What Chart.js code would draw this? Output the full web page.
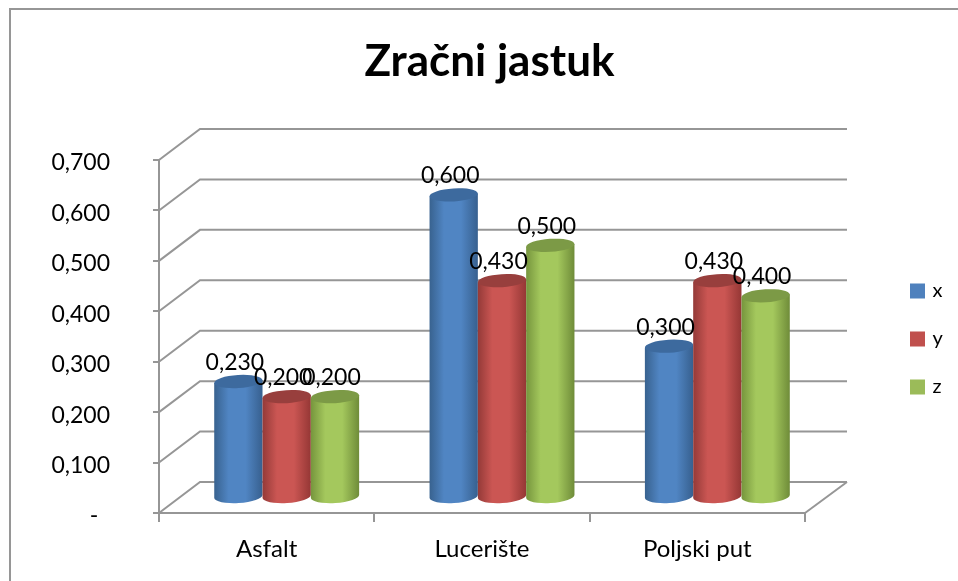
<!DOCTYPE html>
<html>
<head>
<meta charset="utf-8">
<style>
html, body { margin: 0; padding: 0; background: #fff; }
#wrap { width: 958px; height: 581px; }
</style>
<script src="https://cdn.jsdelivr.net/npm/chart.js@4/dist/chart.umd.js"></script>
</head>
<body>
<div id="wrap"><canvas id="cylChart" width="958" height="581"></canvas></div>
<script>
var categories = ['Asfalt', 'Lucerište', 'Poljski put'];
var xValues = [0.23, 0.6, 0.3];
var yValues = [0.2, 0.43, 0.43];
var zValues = [0.2, 0.5, 0.4];
var yTickLabels = ['-\u00a0\u00a0', '0,100', '0,200', '0,300', '0,400', '0,500', '0,600', '0,700'];

var fontName = 'Lato, "Open Sans", sans-serif';
var axisGray = '#969696';
var depthX = 41, depthY = -31;   // offset front plane -> back wall

// side colours of each cylinder: edge, middle, dark edge, top cap
var shades = [
    ['#38628f', '#5085c3', '#37608f', '#3d6a9e'],
    ['#943a38', '#cb5653', '#953735', '#983f3d'],
    ['#76953d', '#a4c85d', '#6f8c39', '#7c9a46']
];

function drawCylinder(ctx, bar, c) {
    var cx = bar.x + depthX / 2 - 0.5;
    var half = bar.width / 2;
    var top = bar.y + depthY / 2;
    var base = bar.base + depthY / 2;
    var ry = 6.5, tilt = -3.5 * Math.PI / 180;
    var dy = half * Math.sin(tilt);

    var grad = ctx.createLinearGradient(cx - half, 0, cx + half, 0);
    grad.addColorStop(0, c[0]);
    grad.addColorStop(0.3, c[1]);
    grad.addColorStop(0.65, c[1]);
    grad.addColorStop(1, c[2]);

    ctx.fillStyle = grad;
    ctx.beginPath();
    ctx.moveTo(cx - half, top - dy);
    ctx.lineTo(cx + half, top + dy);
    ctx.lineTo(cx + half, base + dy);
    ctx.ellipse(cx, base, half, ry, tilt, 0, Math.PI);
    ctx.closePath();
    ctx.fill();

    ctx.fillStyle = c[3];
    ctx.beginPath();
    ctx.ellipse(cx, top, half, ry, tilt, 0, Math.PI * 2);
    ctx.fill();
}

var cylinderPlugin = {
    id: 'cylinders',
    afterLayout: function (chart) {
        // title is centred a bit right of the canvas, legend sits by itself
        chart.titleBlock.left = 21;
        chart.titleBlock.right = 958;
        var lg = chart.legend;
        lg.left = 884.5; lg.right = 958; lg.top = 253; lg.bottom = 520;
    },
    beforeDraw: function (chart) {
        // the frame only shows on the top and left
        var ctx = chart.ctx;
        ctx.save();
        ctx.strokeStyle = axisGray;
        ctx.lineWidth = 2;
        ctx.beginPath();
        ctx.moveTo(10, 581);
        ctx.lineTo(10, 9);
        ctx.lineTo(958, 9);
        ctx.stroke();
        ctx.restore();
    },
    beforeDatasetsDraw: function (chart) {
        var ctx = chart.ctx, area = chart.chartArea, yScale = chart.scales.y;
        ctx.save();
        ctx.strokeStyle = axisGray;
        ctx.lineWidth = 2;
        yScale.ticks.forEach(function (t) {
            var py = yScale.getPixelForValue(t.value);
            ctx.beginPath();
            ctx.moveTo(area.left, py);
            ctx.lineTo(area.left + depthX, py + depthY);
            ctx.lineTo(area.right + depthX + 1, py + depthY);
            ctx.stroke();
        });
        ctx.beginPath();
        ctx.moveTo(area.right, area.bottom);
        ctx.lineTo(area.right + depthX + 1, area.bottom + depthY);
        ctx.stroke();

        // x first, z last, later series cover the earlier ones
        chart.data.datasets.forEach(function (ds, i) {
            chart.getDatasetMeta(i).data.forEach(function (bar) {
                drawCylinder(ctx, bar, shades[i]);
            });
        });

        ctx.fillStyle = '#000';
        ctx.font = '23px ' + fontName;
        ctx.textAlign = 'center';
        ctx.textBaseline = 'middle';
        chart.data.datasets.forEach(function (ds, i) {
            chart.getDatasetMeta(i).data.forEach(function (bar, j) {
                var label = ds.data[j].toFixed(3).replace('.', ',');
                ctx.fillText(label, bar.x + depthX / 2 - 4, bar.y + depthY / 2 - 19);
            });
        });
        ctx.restore();
        return false;
    }
};

new Chart(document.getElementById('cylChart').getContext('2d'), {
    type: 'bar',
    data: {
        labels: categories,
        datasets: [
            // thick border on the small legend box keeps its text close to the box
            { label: 'x', data: xValues, backgroundColor: '#4f81bd', borderColor: '#4f81bd', borderWidth: 5 },
            { label: 'y', data: yValues, backgroundColor: '#c0504d', borderColor: '#c0504d', borderWidth: 5 },
            { label: 'z', data: zValues, backgroundColor: '#9bbb59', borderColor: '#9bbb59', borderWidth: 5 }
        ]
    },
    options: {
        responsive: false,
        animation: false,
        categoryPercentage: 0.673,
        barPercentage: 1,
        layout: { padding: { left: 0, right: 153, top: 0, bottom: 0 } },
        plugins: {
            title: {
                display: true,
                text: 'Zračni jastuk',
                color: '#000',
                font: { family: fontName, size: 44, weight: 'bold', lineHeight: 1 },
                padding: { top: 40, bottom: 76 }
            },
            legend: {
                position: 'chartArea',
                align: 'start',
                labels: {
                    boxWidth: 10,
                    boxHeight: 10,
                    padding: 28,
                    color: '#000',
                    font: { family: fontName, size: 20 }
                }
            },
            tooltip: { enabled: false }
        },
        scales: {
            x: {
                grid: { color: axisGray, lineWidth: 2, drawOnChartArea: false, tickLength: 9 },
                border: { color: axisGray, width: 2 },
                ticks: { color: '#000', font: { family: fontName, size: 24 }, padding: 13 },
                afterFit: function (s) { s.height = 581 - 513; }
            },
            y: {
                min: 0,
                max: 0.7,
                ticks: {
                    stepSize: 0.1,
                    color: '#000',
                    font: { family: fontName, size: 23 },
                    padding: 43,
                    labelOffset: 3,
                    callback: function (v, i) { return yTickLabels[i]; }
                },
                grid: { color: axisGray, lineWidth: 2, drawOnChartArea: false, tickLength: 6 },
                border: { color: axisGray, width: 2 },
                afterFit: function (s) { s.width = 159; }
            }
        }
    },
    plugins: [cylinderPlugin]
});
</script>
</body>
</html>
